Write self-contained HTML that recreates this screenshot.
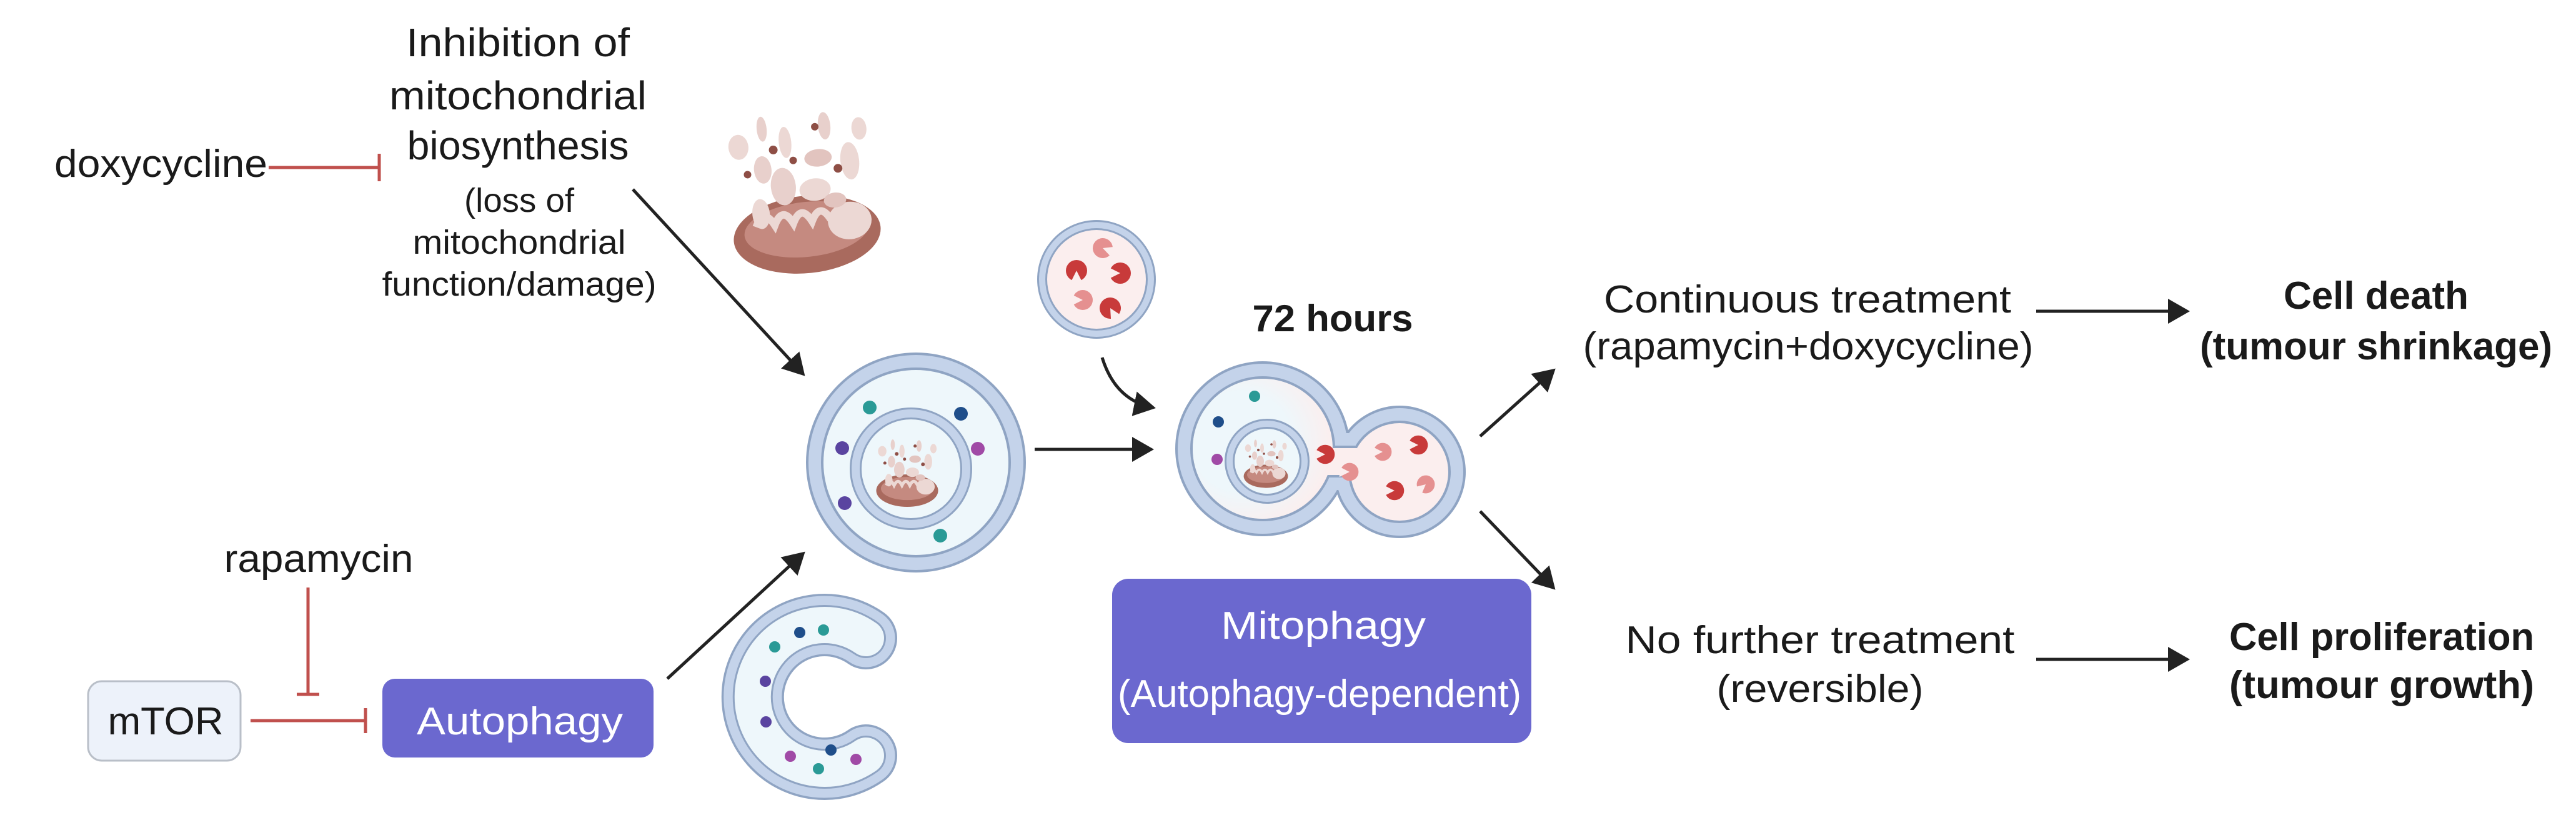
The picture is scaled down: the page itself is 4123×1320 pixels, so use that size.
<!DOCTYPE html>
<html><head><meta charset="utf-8"><style>
html,body{margin:0;padding:0;background:#fff;}
svg{display:block;}
text{font-family:"Liberation Sans",sans-serif;fill:#1a1a1a;}
</style></head><body>
<svg width="4123" height="1320" viewBox="0 0 4123 1320" xmlns="http://www.w3.org/2000/svg">
<defs>
<marker id="ah" markerWidth="8" markerHeight="8" refX="6" refY="4" orient="auto" markerUnits="strokeWidth">
<path d="M0,0 L7,4 L0,8 Z" fill="#222"/></marker>
<radialGradient id="lg" cx="0.35" cy="0.45" r="0.65"><stop offset="0.55" stop-color="#eef7fb" stop-opacity="1"/><stop offset="1" stop-color="#eef7fb" stop-opacity="0"/></radialGradient>
<g id="cD"><circle r="17" fill="#c83a3a"/><path d="M0,0 L-18,-9 L-18,9 Z" fill="#fbeeee"/></g>
<g id="cL"><circle r="16" fill="#e59090"/><path d="M0,0 L-18,-9 L-18,9 Z" fill="#fbeeee"/></g>
<g id="mito">
<ellipse cx="0" cy="0" rx="118" ry="62" fill="#a96a5e"/>
<ellipse cx="0" cy="-8" rx="100" ry="44" fill="#c58a80"/>
<ellipse cx="70" cy="-15" rx="35" ry="30" fill="#ecd8d4"/>
<path d="M-80,-20 q15,-30 30,0 q15,-30 30,0 q15,-30 30,0 q15,-30 30,0" stroke="#ecd8d4" stroke-width="12" fill="none"/>
<ellipse cx="-60" cy="-110" rx="14" ry="22" fill="#e8d0cc"/>
<ellipse cx="-20" cy="-150" rx="10" ry="25" fill="#ecd8d4"/>
<ellipse cx="30" cy="-120" rx="22" ry="14" fill="#e2c4bf"/>
<ellipse cx="80" cy="-110" rx="15" ry="30" fill="#ecd8d4"/>
<ellipse cx="-30" cy="-80" rx="20" ry="30" fill="#e8d0cc"/>
<ellipse cx="20" cy="-70" rx="25" ry="18" fill="#ecd8d4"/>
<ellipse cx="-95" cy="-150" rx="16" ry="20" fill="#ecd8d4"/>
<ellipse cx="-55" cy="-175" rx="8" ry="20" fill="#e8d0cc"/>
<ellipse cx="45" cy="-170" rx="10" ry="22" fill="#e8d0cc"/>
<ellipse cx="-70" cy="-40" rx="14" ry="24" fill="#ecd8d4"/>
<ellipse cx="50" cy="-50" rx="18" ry="12" fill="#e2c4bf"/>
<ellipse cx="100" cy="-160" rx="12" ry="18" fill="#ecd8d4"/>
<circle cx="-40" cy="-140" r="7" fill="#8e4e45"/>
<circle cx="-10" cy="-120" r="6" fill="#8e4e45"/>
<circle cx="30" cy="-170" r="6" fill="#8e4e45"/>
<circle cx="60" cy="-100" r="7" fill="#8e4e45"/>
<circle cx="-85" cy="-105" r="6" fill="#8e4e45"/>
</g>
</defs>

<text x="829" y="90" font-size="64" text-anchor="middle" textLength="358" lengthAdjust="spacingAndGlyphs">Inhibition of</text>
<text x="829" y="175" font-size="64" text-anchor="middle" textLength="412" lengthAdjust="spacingAndGlyphs">mitochondrial</text>
<text x="829" y="255" font-size="64" text-anchor="middle" textLength="355" lengthAdjust="spacingAndGlyphs">biosynthesis</text>
<text x="831" y="339" font-size="54" text-anchor="middle" textLength="176" lengthAdjust="spacingAndGlyphs">(loss of</text>
<text x="831" y="406" font-size="54" text-anchor="middle" textLength="341" lengthAdjust="spacingAndGlyphs">mitochondrial</text>
<text x="831" y="473" font-size="54" text-anchor="middle" textLength="439" lengthAdjust="spacingAndGlyphs">function/damage)</text>
<text x="87" y="283" font-size="62" textLength="341" lengthAdjust="spacingAndGlyphs">doxycycline</text>
<line x1="430" y1="268" x2="607" y2="268" stroke="#c0504d" stroke-width="5"/>
<line x1="607" y1="246" x2="607" y2="290" stroke="#c0504d" stroke-width="5"/>

<text x="510" y="915" font-size="62" text-anchor="middle" textLength="303" lengthAdjust="spacingAndGlyphs">rapamycin</text>
<line x1="493" y1="940" x2="493" y2="1111" stroke="#c0504d" stroke-width="5"/>
<line x1="475" y1="1111" x2="511" y2="1111" stroke="#c0504d" stroke-width="5"/>

<rect x="141" y="1090" width="244" height="127" rx="22" fill="#edf2fa" stroke="#b9bfc8" stroke-width="3"/>
<text x="265" y="1175" font-size="62" text-anchor="middle" textLength="185" lengthAdjust="spacingAndGlyphs">mTOR</text>
<line x1="401" y1="1153" x2="585" y2="1153" stroke="#c0504d" stroke-width="5"/>
<line x1="585" y1="1133" x2="585" y2="1173" stroke="#c0504d" stroke-width="5"/>
<rect x="612" y="1086" width="434" height="126" rx="20" fill="#6b68cf"/>
<text x="832" y="1175" font-size="62" text-anchor="middle" textLength="330" lengthAdjust="spacingAndGlyphs" style="fill:#fff">Autophagy</text>

<line x1="1013" y1="303" x2="1285" y2="598" stroke="#222" stroke-width="5" marker-end="url(#ah)"/>
<line x1="1068" y1="1086" x2="1285" y2="886" stroke="#222" stroke-width="5" marker-end="url(#ah)"/>
<line x1="1656" y1="719" x2="1842" y2="719" stroke="#222" stroke-width="5" marker-end="url(#ah)"/>
<path d="M1764,572 Q1785,640 1845,652" stroke="#222" stroke-width="5" fill="none" marker-end="url(#ah)"/>
<line x1="2369" y1="698" x2="2486" y2="593" stroke="#222" stroke-width="5" marker-end="url(#ah)"/>
<line x1="2369" y1="818" x2="2486" y2="940" stroke="#222" stroke-width="5" marker-end="url(#ah)"/>
<line x1="3259" y1="498" x2="3500" y2="498" stroke="#222" stroke-width="5" marker-end="url(#ah)"/>
<line x1="3259" y1="1055" x2="3500" y2="1055" stroke="#222" stroke-width="5" marker-end="url(#ah)"/>

<g transform="translate(1292,375) rotate(-6)"><use href="#mito"/></g>

<circle cx="1466" cy="740" r="176" fill="#8fa4c3"/>
<circle cx="1466" cy="740" r="172" fill="#c4d3ea"/>
<circle cx="1466" cy="740" r="152" fill="#8fa4c3"/>
<circle cx="1466" cy="740" r="148" fill="#eef7fb"/>
<circle cx="1458" cy="750" r="98" fill="#8fa4c3"/>
<circle cx="1458" cy="750" r="95" fill="#c4d3ea"/>
<circle cx="1458" cy="750" r="82" fill="#8fa4c3"/>
<circle cx="1458" cy="750" r="79" fill="#eef7fb"/>
<g transform="translate(1452,785) scale(0.42)"><use href="#mito"/></g>
<circle cx="1392" cy="652" r="11" fill="#2a9a96"/>
<circle cx="1538" cy="662" r="11" fill="#1f4e8a"/>
<circle cx="1348" cy="717" r="11" fill="#5a44a0"/>
<circle cx="1565" cy="718" r="11" fill="#a04aa6"/>
<circle cx="1352" cy="805" r="11" fill="#5a44a0"/>
<circle cx="1505" cy="857" r="11" fill="#2a9a96"/>

<g fill="none" stroke-linecap="round">
<path d="M1386,1021 A115 115 0 1 0 1386,1209" stroke="#8fa4c3" stroke-width="100"/>
<path d="M1386,1021 A115 115 0 1 0 1386,1209" stroke="#c4d3ea" stroke-width="93"/>
<path d="M1386,1021 A115 115 0 1 0 1386,1209" stroke="#8fa4c3" stroke-width="64"/>
<path d="M1386,1021 A115 115 0 1 0 1386,1209" stroke="#eef7fb" stroke-width="58"/>
</g>
<circle cx="1280" cy="1012" r="9" fill="#1f4e8a"/>
<circle cx="1318" cy="1008" r="9" fill="#2a9a96"/>
<circle cx="1240" cy="1035" r="9" fill="#2a9a96"/>
<circle cx="1225" cy="1090" r="9" fill="#5a44a0"/>
<circle cx="1226" cy="1155" r="9" fill="#5a44a0"/>
<circle cx="1265" cy="1210" r="9" fill="#a04aa6"/>
<circle cx="1330" cy="1200" r="9" fill="#1f4e8a"/>
<circle cx="1310" cy="1230" r="9" fill="#2a9a96"/>
<circle cx="1370" cy="1215" r="9" fill="#a04aa6"/>

<circle cx="1755" cy="447" r="95" fill="#8fa4c3"/>
<circle cx="1755" cy="447" r="92" fill="#c4d3ea"/>
<circle cx="1755" cy="447" r="82" fill="#8fa4c3"/>
<circle cx="1755" cy="447" r="79" fill="#fbeeee"/>
<use href="#cL" transform="translate(1765,397) rotate(200)"/>
<use href="#cD" transform="translate(1723,433) rotate(-90)"/>
<use href="#cD" transform="translate(1793,437)"/>
<use href="#cL" transform="translate(1733,480)"/>
<use href="#cD" transform="translate(1777,493) rotate(-120)"/>

<g>
<g fill="#8fa4c3"><circle cx="2021" cy="718" r="140"/><circle cx="2240" cy="755" r="106"/><rect x="2100" y="689" width="150" height="99"/></g>
<g fill="#c4d3ea"><circle cx="2021" cy="718" r="136"/><circle cx="2240" cy="755" r="102"/><rect x="2100" y="693" width="150" height="91"/></g>
<g fill="#8fa4c3"><circle cx="2021" cy="718" r="116"/><circle cx="2240" cy="755" r="82"/><rect x="2100" y="713" width="150" height="51"/></g>
<g fill="#fbeeee"><circle cx="2021" cy="718" r="112"/><circle cx="2240" cy="755" r="78"/><rect x="2100" y="717" width="150" height="43"/></g>
<circle cx="2021" cy="718" r="112" fill="url(#lg)"/>
</g>
<circle cx="2028" cy="738" r="68" fill="#8fa4c3"/>
<circle cx="2028" cy="738" r="65" fill="#c4d3ea"/>
<circle cx="2028" cy="738" r="55" fill="#8fa4c3"/>
<circle cx="2028" cy="738" r="52" fill="#eef7fb"/>
<g transform="translate(2026,762) scale(0.3)"><use href="#mito"/></g>
<circle cx="2008" cy="634" r="9" fill="#2a9a96"/>
<circle cx="1950" cy="675" r="9" fill="#1f4e8a"/>
<circle cx="1948" cy="735" r="9" fill="#a04aa6"/>
<use href="#cD" transform="translate(2121,727) scale(0.9)"/>
<use href="#cL" transform="translate(2160,755) scale(0.9)"/>
<use href="#cL" transform="translate(2213,723) scale(0.9)"/>
<use href="#cD" transform="translate(2270,712) scale(0.9)"/>
<use href="#cD" transform="translate(2232,785) scale(0.9)"/>
<use href="#cL" transform="translate(2282,775) scale(0.9) rotate(-40)"/>

<text x="2133" y="530" font-size="60" font-weight="bold" text-anchor="middle" textLength="257" lengthAdjust="spacingAndGlyphs">72 hours</text>

<rect x="1780" y="926" width="671" height="263" rx="26" fill="#6b68cf"/>
<text x="2118" y="1022" font-size="62" text-anchor="middle" textLength="328" lengthAdjust="spacingAndGlyphs" style="fill:#fff">Mitophagy</text>
<text x="2112" y="1131" font-size="62" text-anchor="middle" textLength="646" lengthAdjust="spacingAndGlyphs" style="fill:#fff">(Autophagy-dependent)</text>

<text x="2893" y="500" font-size="62" text-anchor="middle" textLength="652" lengthAdjust="spacingAndGlyphs">Continuous treatment</text>
<text x="2894" y="575" font-size="62" text-anchor="middle" textLength="721" lengthAdjust="spacingAndGlyphs">(rapamycin+doxycycline)</text>
<text x="3803" y="494" font-size="62" font-weight="bold" text-anchor="middle" textLength="296" lengthAdjust="spacingAndGlyphs">Cell death</text>
<text x="3803" y="575" font-size="62" font-weight="bold" text-anchor="middle" textLength="564" lengthAdjust="spacingAndGlyphs">(tumour shrinkage)</text>
<text x="2913" y="1045" font-size="62" text-anchor="middle" textLength="623" lengthAdjust="spacingAndGlyphs">No further treatment</text>
<text x="2913" y="1123" font-size="62" text-anchor="middle" textLength="331" lengthAdjust="spacingAndGlyphs">(reversible)</text>
<text x="3812" y="1040" font-size="62" font-weight="bold" text-anchor="middle" textLength="488" lengthAdjust="spacingAndGlyphs">Cell proliferation</text>
<text x="3812" y="1117" font-size="62" font-weight="bold" text-anchor="middle" textLength="488" lengthAdjust="spacingAndGlyphs">(tumour growth)</text>
</svg>
</body></html>
